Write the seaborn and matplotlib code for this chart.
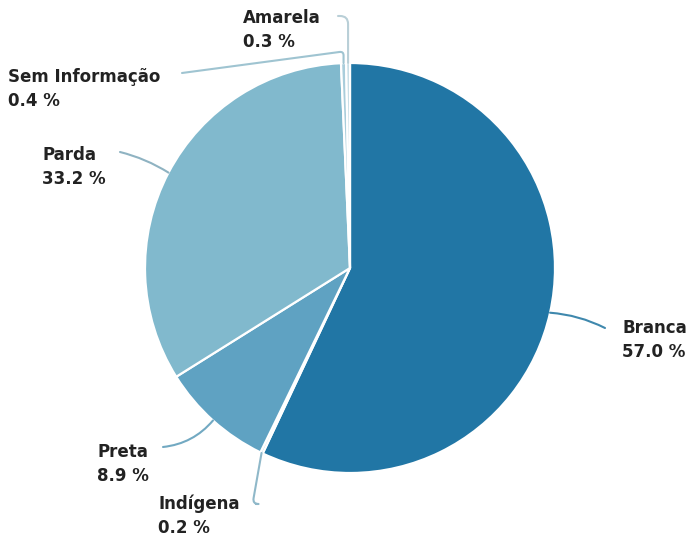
import numpy as np
import matplotlib
matplotlib.use("Agg")
import matplotlib.pyplot as plt
import seaborn as sns

# =====================================================
# DATA
# =====================================================

categories = ["Branca", "Indígena", "Preta", "Parda", "Sem Informação", "Amarela"]
percent = [57.0, 0.2, 8.9, 33.2, 0.4, 0.3]
slice_colors = ["#2176a5", "#9fc8d8", "#5fa2c2", "#81b9cd", "#a9cddb", "#c3dce5"]

# =====================================================
# STYLE
# =====================================================

sns.set_theme(style="white")
plt.rcParams['font.family'] = ['DejaVu Sans']

W, H = 691, 538
cx, cy, R = 350, 268, 205  # pie centre and radius in pixels


def px(x, y):
    # pixel position (from top-left) -> data units of the axes
    return ((x - cx) / R, (cy - y) / R)


fig = plt.figure(figsize=(W / 100, H / 100), dpi=100)
ax = fig.add_axes([0, 0, 1, 1])

wedges, _ = ax.pie(
    percent,
    colors=slice_colors,
    startangle=90,
    counterclock=False,
    radius=1,
    wedgeprops=dict(edgecolor="white", linewidth=1.6),
)

ax.set_xlim(-cx / R, (W - cx) / R)
ax.set_ylim(-(H - cy) / R, cy / R)
ax.set_aspect("equal")
ax.axis("off")

# =====================================================
# LABELS + LEADER LINES
# =====================================================

# text left x, block centre y, line end (px), connection style, line colour
label_layout = {
    "Branca": ((622, 340), (605, 328), "arc3,rad=0.1", "#3f88ad"),
    "Indígena": ((158, 516), (256, 504), "angle,angleA=180,angleB=-100,rad=6", "#8fb8c9"),
    "Preta": ((97, 464), (163, 447), "arc3,rad=0.2", "#72a9c2"),
    "Parda": ((42, 167), (120, 152), "arc3,rad=-0.08", "#8fb3c2"),
    "Sem Informação": ((8, 89), (182, 73), "angle,angleA=7.6,angleB=90,rad=4", "#9fc4d1"),
    "Amarela": ((243, 30), (338, 16), "angle,angleA=0,angleB=90,rad=8", "#b9cfd7"),
}

for w, name, val in zip(wedges, categories, percent):
    mid = np.deg2rad((w.theta1 + w.theta2) / 2)
    anchor = (np.cos(mid), np.sin(mid))
    (tx, ty), (lx, ly), cstyle, lcol = label_layout[name]
    ax.annotate(
        "",
        xy=anchor,
        xytext=px(lx, ly),
        arrowprops=dict(arrowstyle="-", color=lcol, lw=1.5,
                        shrinkA=0, shrinkB=0, connectionstyle=cstyle),
    )
    ax.text(*px(tx, ty), f"{name}\n{val:.1f} %", ha="left", va="center",
            fontsize=12, fontweight="bold", color="#222222", linespacing=1.45)

fig.savefig("out.png", dpi=100)
